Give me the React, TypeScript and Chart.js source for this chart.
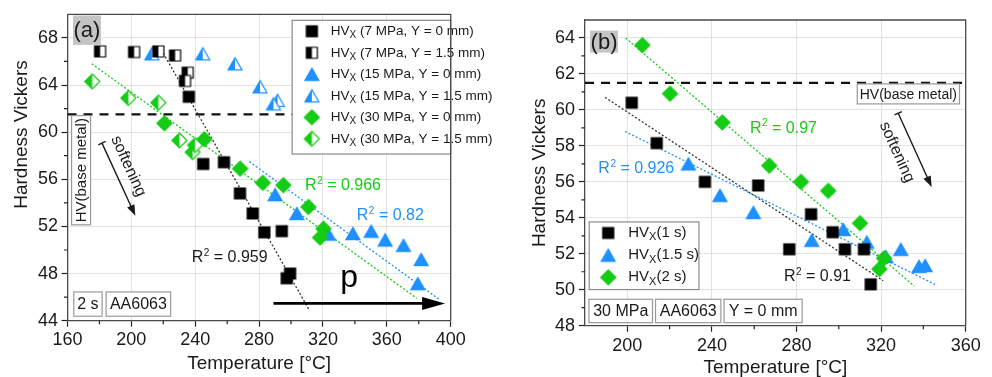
import React, { useEffect, useRef } from 'react';
import { Chart, registerables } from 'chart.js';

Chart.register(...registerables);

const FONT = "'Liberation Sans', Arial, Helvetica, sans-serif";
Chart.defaults.font.family = FONT;

const INK = '#1a1a1a';
const BLACK = '#000000';
const BLUE = '#1e90ff';
const GREEN = '#14cc14';
const GRID = '#e2e2e2';
const FRAME = '#4a4a4a';

// ---------------- Panel (a) ----------------
const A_X_TICKS = [160, 200, 240, 280, 320, 360, 400];
const A_Y_TICKS = [44, 48, 52, 56, 60, 64, 68];
const A_X_MINOR = [180, 220, 260, 300, 340, 380];
const A_Y_MINOR = [46, 50, 54, 58, 62, 66];

const A_T_7_0 = [236, 245, 258, 268, 276, 283.3, 294.2, 299.4, 297.3];
const A_HV_7_0 = [63.0, 57.3, 57.45, 54.8, 53.1, 51.5, 51.6, 48.0, 47.6];
const A_T_7_15 = [180.4, 201.7, 216.9, 227.4, 235.3, 233.6];
const A_HV_7_15 = [66.85, 66.8, 66.85, 66.5, 65.05, 64.35];
const A_T_15_0 = [290, 303.6, 323.4, 338.7, 350.2, 358.9, 370.4, 381.5, 379.4];
const A_HV_15_0 = [54.7, 53.1, 51.35, 51.4, 51.6, 50.85, 50.4, 49.2, 47.15];
const A_T_15_15 = [212.8, 244.7, 264.9, 280.6, 291.5, 289.0];
const A_HV_15_15 = [66.65, 66.65, 65.8, 63.85, 62.7, 62.4];
const A_T_30_0 = [220.7, 245.7, 268.1, 282.3, 295.2, 310.9, 320.3, 318.2];
const A_HV_30_0 = [60.75, 59.4, 56.9, 55.7, 55.5, 53.65, 51.8, 51.05];
const A_T_30_15 = [175.5, 198.1, 216.9, 230.1, 238.4, 239.9];
const A_HV_30_15 = [64.3, 62.9, 62.5, 59.3, 58.3, 58.9];

const A_FIT_7_T = [220, 311];
const A_FIT_7_HV = [66.7, 45.0];
const A_FIT_15_T = [273.9, 393.4];
const A_FIT_15_HV = [57.5, 45.75];
const A_FIT_30_T = [175.2, 378.8];
const A_FIT_30_HV = [65.8, 45.9];
const A_BASE_T = [160, 400];
const A_BASE_HV = [61.5, 61.5];

const A_LEGEND = [
  ' (7 MPa, Y = 0 mm)',
  ' (7 MPa, Y = 1.5 mm)',
  ' (15 MPa, Y = 0 mm)',
  ' (15 MPa, Y = 1.5 mm)',
  ' (30 MPa, Y = 0 mm)',
  ' (30 MPa, Y = 1.5 mm)',
];
const A_R2 = ['0.959', '0.82', '0.966'];

// ---------------- Panel (b) ----------------
const B_X_TICKS = [200, 240, 280, 320, 360];
const B_Y_TICKS = [48, 50, 52, 54, 56, 58, 60, 62, 64];
const B_X_MINOR = [220, 260, 300, 340];
const B_Y_MINOR = [49, 51, 53, 55, 57, 59, 61, 63];

const B_T_1S = [202.1, 213.9, 236.7, 261.9, 276.6, 286.9, 297.1, 302.9, 311.9, 315.1];
const B_HV_1S = [60.4, 58.15, 56.0, 55.8, 52.25, 54.2, 53.2, 52.25, 52.25, 50.3];
const B_T_15S = [228.9, 243.8, 259.6, 287.2, 302.1, 313.2, 322.2, 329.3, 337.9, 340.8];
const B_HV_15S = [57.0, 55.25, 54.3, 52.75, 53.35, 52.65, 51.85, 52.25, 51.3, 51.35];
const B_T_2S = [207.1, 220.2, 244.9, 267.1, 282.1, 295.0, 310.0, 321.4, 319.2];
const B_HV_2S = [63.6, 60.9, 59.3, 56.9, 56.0, 55.5, 53.7, 51.75, 51.15];

const B_FIT_1S_T = [189.5, 321.0];
const B_FIT_1S_HV = [60.7, 50.5];
const B_FIT_15S_T = [198.9, 345.5];
const B_FIT_15S_HV = [58.8, 50.3];
const B_FIT_2S_T = [199.2, 335.7];
const B_FIT_2S_HV = [64.0, 50.2];
const B_BASE_T = [180, 360];
const B_BASE_HV = [61.5, 61.5];

const B_LEGEND = ['(1 s)', '(1.5 s)', '(2 s)'];
const B_R2 = ['0.91', '0.926', '0.97'];

// ---------------- helpers ----------------
const pts = (xs: number[], ys: number[]) => xs.map((x, i) => ({ x, y: ys[i] }));

type Shape = 'square' | 'triangle' | 'diamond';
function makeMarker(shape: Shape, color: string, size: number, half: boolean): HTMLCanvasElement {
  const c = document.createElement('canvas');
  const pad = 2;
  const h = shape === 'triangle' ? size * 0.87 : size;
  c.width = Math.ceil(size + pad * 2);
  c.height = Math.ceil(h + pad * 2);
  const g = c.getContext('2d')!;
  const cx = c.width / 2;
  const cy = c.height / 2;
  const path = () => {
    g.beginPath();
    if (shape === 'square') g.rect(cx - size / 2, cy - size / 2, size, size);
    else if (shape === 'triangle') {
      g.moveTo(cx, cy - h / 2);
      g.lineTo(cx + size / 2, cy + h / 2);
      g.lineTo(cx - size / 2, cy + h / 2);
      g.closePath();
    } else {
      g.moveTo(cx, cy - size / 2);
      g.lineTo(cx + size / 2, cy);
      g.lineTo(cx, cy + size / 2);
      g.lineTo(cx - size / 2, cy);
      g.closePath();
    }
  };
  path();
  g.fillStyle = half ? '#ffffff' : color;
  g.fill();
  if (half) {
    g.save();
    g.beginPath();
    g.rect(0, 0, cx, c.height);
    g.clip();
    path();
    g.fillStyle = color;
    g.fill();
    g.restore();
  }
  path();
  g.lineWidth = 1.2;
  g.strokeStyle = color;
  g.stroke();
  return c;
}

function rsq(ctx: any, x: number, y: number, val: string, color: string, size: number) {
  ctx.save();
  ctx.fillStyle = color;
  ctx.textBaseline = 'middle';
  ctx.textAlign = 'left';
  ctx.font = `${size}px ${FONT}`;
  ctx.fillText('R', x, y);
  let w = ctx.measureText('R').width;
  ctx.font = `${Math.round(size * 0.62)}px ${FONT}`;
  ctx.fillText('2', x + w + 0.5, y - size * 0.3);
  w += ctx.measureText('2').width + 0.5;
  ctx.font = `${size}px ${FONT}`;
  ctx.fillText(' = ' + val, x + w, y);
  ctx.restore();
}

function hvx(ctx: any, x: number, y: number, rest: string, size: number) {
  ctx.save();
  ctx.fillStyle = INK;
  ctx.textBaseline = 'middle';
  ctx.textAlign = 'left';
  ctx.font = `${size}px ${FONT}`;
  ctx.fillText('HV', x, y);
  let w = ctx.measureText('HV').width;
  ctx.font = `${Math.round(size * 0.75)}px ${FONT}`;
  ctx.fillText('X', x + w, y + size * 0.3);
  w += ctx.measureText('X').width;
  ctx.font = `${size}px ${FONT}`;
  ctx.fillText(rest, x + w, y);
  ctx.restore();
}

function labelBox(ctx: any, cx: number, cy: number, text: string, size: number, padX: number, boxH: number, rot: number, fill: string, stroke: string | null) {
  ctx.save();
  ctx.translate(cx, cy);
  ctx.rotate(rot);
  ctx.font = `${size}px ${FONT}`;
  const w = ctx.measureText(text).width + padX * 2;
  ctx.fillStyle = fill;
  ctx.fillRect(-w / 2, -boxH / 2, w, boxH);
  if (stroke) {
    ctx.strokeStyle = stroke;
    ctx.lineWidth = 1.2;
    ctx.strokeRect(-w / 2, -boxH / 2, w, boxH);
  }
  ctx.fillStyle = INK;
  ctx.textAlign = 'center';
  ctx.textBaseline = 'middle';
  ctx.fillText(text, 0, 1);
  ctx.restore();
}

function softArrow(ctx: any, x1: number, y1: number, x2: number, y2: number) {
  const a = Math.atan2(y2 - y1, x2 - x1);
  ctx.save();
  ctx.strokeStyle = INK;
  ctx.fillStyle = INK;
  ctx.lineWidth = 1.4;
  ctx.beginPath();
  ctx.moveTo(x1, y1);
  ctx.lineTo(x2 - Math.cos(a) * 8, y2 - Math.sin(a) * 8);
  ctx.stroke();
  const px = -Math.sin(a), py = Math.cos(a);
  ctx.beginPath();
  ctx.moveTo(x1 - px * 4, y1 - py * 4);
  ctx.lineTo(x1 + px * 4, y1 + py * 4);
  ctx.stroke();
  ctx.beginPath();
  ctx.moveTo(x2, y2);
  ctx.lineTo(x2 - Math.cos(a) * 11 + px * 4, y2 - Math.sin(a) * 11 + py * 4);
  ctx.lineTo(x2 - Math.cos(a) * 11 - px * 4, y2 - Math.sin(a) * 11 - py * 4);
  ctx.closePath();
  ctx.fill();
  ctx.restore();
}

function rotText(ctx: any, cx: number, cy: number, text: string, size: number, rot: number) {
  ctx.save();
  ctx.translate(cx, cy);
  ctx.rotate(rot);
  ctx.font = `${size}px ${FONT}`;
  ctx.fillStyle = INK;
  ctx.textAlign = 'center';
  ctx.textBaseline = 'middle';
  ctx.fillText(text, 0, 0);
  ctx.restore();
}

function frameAndMinor(ctx: any, ca: any, X: (v: number) => number, Y: (v: number) => number, xm: number[], ym: number[]) {
  ctx.save();
  ctx.strokeStyle = FRAME;
  ctx.lineWidth = 1.3;
  ctx.beginPath();
  ctx.moveTo(ca.left, ca.top);
  ctx.lineTo(ca.right, ca.top);
  ctx.lineTo(ca.right, ca.bottom);
  ctx.stroke();
  ctx.lineWidth = 1.2;
  ctx.strokeStyle = '#222';
  ctx.beginPath();
  xm.forEach((v) => {
    ctx.moveTo(X(v), ca.bottom);
    ctx.lineTo(X(v), ca.bottom + 3.5);
  });
  ym.forEach((v) => {
    ctx.moveTo(ca.left, Y(v));
    ctx.lineTo(ca.left - 3.5, Y(v));
  });
  ctx.stroke();
  ctx.restore();
}

function scaleCfg(min: number, max: number, ticks: number[], size: number, pad: number, title: any, isX: boolean) {
  return {
    type: 'linear',
    min,
    max,
    afterBuildTicks: (s: any) => {
      s.ticks = ticks.map((v) => ({ value: v }));
    },
    afterFit: (s: any) => {
      if (isX) s.height = size;
      else s.width = size;
    },
    grid: { color: GRID, lineWidth: 1, tickLength: 6, tickColor: '#222', tickWidth: 1.2, drawTicks: true },
    border: { display: true, color: FRAME, width: 1.3 },
    ticks: { font: { size: 18, family: FONT }, color: INK, padding: pad, autoSkip: false, maxRotation: 0, minRotation: 0 },
    title,
  };
}

function scatterSet(label: string, data: any[], marker: HTMLCanvasElement, order: number) {
  return { label, data, pointStyle: marker, pointRadius: 6, pointHoverRadius: 6, showLine: false, order };
}
function lineSet(label: string, data: any[], color: string, dash: number[], width: number, order: number) {
  return { label, data, showLine: true, borderColor: color, borderWidth: width, borderDash: dash, pointRadius: 0, pointHoverRadius: 0, fill: false, order };
}

// ---------------- chart builders ----------------
function buildA() {
  const mSqF = makeMarker('square', BLACK, 11, false);
  const mSqH = makeMarker('square', BLACK, 11, true);
  const mTrF = makeMarker('triangle', BLUE, 14, false);
  const mTrH = makeMarker('triangle', BLUE, 14, true);
  const mDiF = makeMarker('diamond', GREEN, 15, false);
  const mDiH = makeMarker('diamond', GREEN, 15, true);
  const legendMarkers = [mSqF, mSqH, mTrF, mTrH, mDiF, mDiH];

  const plugin = {
    id: 'panelA',
    afterDatasetsDraw(chart: any) {
      const { ctx, chartArea: ca, scales } = chart;
      const X = (v: number) => scales.x.getPixelForValue(v);
      const Y = (v: number) => scales.y.getPixelForValue(v);
      const lx = X(300.7), ly = Y(69.49);
      ctx.save();
      ctx.fillStyle = '#ffffff';
      ctx.fillRect(lx, ly, ca.right - lx, 133.7);
      ctx.strokeStyle = '#8a8a8a';
      ctx.lineWidth = 1.2;
      ctx.strokeRect(lx, ly, ca.right - lx, 133.7);
      ctx.restore();
      A_LEGEND.forEach((t, i) => {
        const ry = ly + 11 + i * 21.5;
        const m = legendMarkers[i];
        ctx.drawImage(m, lx + 19.7 - m.width / 2, ry - m.height / 2);
        hvx(ctx, lx + 38.7, ry, t, 13.5);
      });
      frameAndMinor(ctx, ca, X, Y, A_X_MINOR, A_Y_MINOR);
      rotText(ctx, 22, Y(59.8), 'Hardness Vickers', 19, -Math.PI / 2);
      labelBox(ctx, X(172.2), Y(68.65), '(a)', 22, 0.5, 29.4, 0, '#c4c4c4', null);
      labelBox(ctx, X(168.5), Y(56.77), 'HV(base metal)', 15, 2.5, 19, -Math.PI / 2, '#ffffff', '#999999');
      softArrow(ctx, X(181.6), Y(59.07), X(202.5), Y(52.9));
      rotText(ctx, X(198.1), Y(57.1), 'softening', 16, Math.atan2(73.3, 33.3));
      rsq(ctx, X(237.8), Y(49.34), A_R2[0], INK, 16);
      rsq(ctx, X(341.2), Y(52.9), A_R2[1], BLUE, 16);
      rsq(ctx, X(308.8), Y(55.43), A_R2[2], GREEN, 16);
      ctx.save();
      ctx.strokeStyle = BLACK;
      ctx.fillStyle = BLACK;
      ctx.lineWidth = 2.6;
      const ay = Y(45.47), ax1 = X(289), ax2 = X(396.5);
      ctx.beginPath();
      ctx.moveTo(ax1, ay);
      ctx.lineTo(ax2 - 20, ay);
      ctx.stroke();
      ctx.beginPath();
      ctx.moveTo(ax2, ay);
      ctx.lineTo(ax2 - 23, ay - 6.5);
      ctx.lineTo(ax2 - 23, ay + 6.5);
      ctx.closePath();
      ctx.fill();
      ctx.font = `32px ${FONT}`;
      ctx.textAlign = 'center';
      ctx.textBaseline = 'middle';
      ctx.fillText('p', X(336.4), Y(47.6));
      ctx.restore();
      labelBox(ctx, X(172.8), Y(45.41), '2 s', 16, 3.5, 24.3, 0, '#ffffff', '#999999');
      labelBox(ctx, X(204.4), Y(45.41), 'AA6063', 16, 3.8, 24.3, 0, '#ffffff', '#999999');
    },
  };

  return {
    type: 'scatter',
    data: {
      datasets: [
        lineSet('HV(base metal)', pts(A_BASE_T, A_BASE_HV), '#111111', [9, 7], 2.2, 20),
        lineSet('fit 7 MPa', pts(A_FIT_7_T, A_FIT_7_HV), '#333333', [2, 2], 1.3, 12),
        lineSet('fit 15 MPa', pts(A_FIT_15_T, A_FIT_15_HV), BLUE, [2, 2], 1.3, 11),
        lineSet('fit 30 MPa', pts(A_FIT_30_T, A_FIT_30_HV), GREEN, [2, 2], 1.3, 10),
        scatterSet('HVX (7 MPa, Y = 0 mm)', pts(A_T_7_0, A_HV_7_0), mSqF, 3),
        scatterSet('HVX (7 MPa, Y = 1.5 mm)', pts(A_T_7_15, A_HV_7_15), mSqH, 4),
        scatterSet('HVX (15 MPa, Y = 0 mm)', pts(A_T_15_0, A_HV_15_0), mTrF, 2),
        scatterSet('HVX (15 MPa, Y = 1.5 mm)', pts(A_T_15_15, A_HV_15_15), mTrH, 5),
        scatterSet('HVX (30 MPa, Y = 0 mm)', pts(A_T_30_0, A_HV_30_0), mDiF, 1),
        scatterSet('HVX (30 MPa, Y = 1.5 mm)', pts(A_T_30_15, A_HV_30_15), mDiH, 6),
      ],
    },
    options: {
      responsive: false,
      animation: false,
      devicePixelRatio: 1,
      layout: { padding: { left: 0, top: 12, right: 49.3, bottom: 0 } },
      plugins: { legend: { display: false }, tooltip: { enabled: false } },
      scales: {
        x: scaleCfg(160, 400, A_X_TICKS, 56.3, 2.5, {
          display: true, text: 'Temperature [°C]', color: INK,
          font: { size: 19, family: FONT, lineHeight: 1 }, padding: { top: 0, bottom: 4 },
        }, true),
        y: scaleCfg(44, 70, A_Y_TICKS, 67.5, 3.5, { display: false }, false),
      },
    },
    plugins: [plugin],
  };
}

function buildB() {
  const mSq = makeMarker('square', BLACK, 11, false);
  const mTr = makeMarker('triangle', BLUE, 14, false);
  const mDi = makeMarker('diamond', GREEN, 15, false);
  const legendMarkers = [mSq, mTr, mDi];

  const plugin = {
    id: 'panelB',
    afterDatasetsDraw(chart: any) {
      const { ctx, chartArea: ca, scales } = chart;
      const X = (v: number) => scales.x.getPixelForValue(v);
      const Y = (v: number) => scales.y.getPixelForValue(v);
      frameAndMinor(ctx, ca, X, Y, B_X_MINOR, B_Y_MINOR);
      const lx = X(182.0), ly = Y(53.77);
      ctx.save();
      ctx.fillStyle = '#ffffff';
      ctx.fillRect(lx, ly, 109.7, 67.6);
      ctx.strokeStyle = '#8a8a8a';
      ctx.lineWidth = 1.2;
      ctx.strokeRect(lx, ly, 109.7, 67.6);
      ctx.restore();
      B_LEGEND.forEach((t, i) => {
        const ry = ly + 11 + i * 22.2;
        const m = legendMarkers[i];
        ctx.drawImage(m, lx + 19 - m.width / 2, ry - m.height / 2);
        hvx(ctx, lx + 39, ry, t, 15);
      });
      labelBox(ctx, X(189.0), Y(63.8), '(b)', 22, 0.5, 22, 0, '#c4c4c4', null);
      labelBox(ctx, X(332.9), Y(60.89), 'HV(base metal)', 14, 2.5, 20, 0, '#ffffff', '#999999');
      softArrow(ctx, X(328.1), Y(59.81), X(343.9), Y(55.71));
      rotText(ctx, X(327.4), Y(57.65), 'softening', 16, Math.atan2(74, 33.4));
      rsq(ctx, X(274.1), Y(50.72), B_R2[0], INK, 16);
      rsq(ctx, X(186.3), Y(56.73), B_R2[1], BLUE, 16);
      rsq(ctx, X(258.0), Y(58.98), B_R2[2], GREEN, 16);
      labelBox(ctx, X(196.9), Y(48.82), '30 MPa', 16, 4.2, 23.4, 0, '#ffffff', '#999999');
      labelBox(ctx, X(228.8), Y(48.82), 'AA6063', 16, 4.2, 23.4, 0, '#ffffff', '#999999');
      labelBox(ctx, X(264.2), Y(48.82), 'Y = 0 mm', 16, 4.6, 23.4, 0, '#ffffff', '#999999');
    },
  };

  return {
    type: 'scatter',
    data: {
      datasets: [
        lineSet('HV(base metal)', pts(B_BASE_T, B_BASE_HV), '#111111', [9, 7], 2.2, 20),
        lineSet('fit 1 s', pts(B_FIT_1S_T, B_FIT_1S_HV), '#333333', [2, 2], 1.3, 12),
        lineSet('fit 1.5 s', pts(B_FIT_15S_T, B_FIT_15S_HV), BLUE, [2, 2], 1.3, 11),
        lineSet('fit 2 s', pts(B_FIT_2S_T, B_FIT_2S_HV), GREEN, [2, 2], 1.3, 10),
        scatterSet('HVX(1 s)', pts(B_T_1S, B_HV_1S), mSq, 2),
        scatterSet('HVX(1.5 s)', pts(B_T_15S, B_HV_15S), mTr, 3),
        scatterSet('HVX(2 s)', pts(B_T_2S, B_HV_2S), mDi, 1),
      ],
    },
    options: {
      responsive: false,
      animation: false,
      devicePixelRatio: 1,
      layout: { padding: { left: 0, top: 20, right: 26.3, bottom: 0 } },
      plugins: { legend: { display: false }, tooltip: { enabled: false } },
      scales: {
        x: scaleCfg(180, 360, B_X_TICKS, 51.3, 3.2, {
          display: true, text: 'Temperature [°C]', color: INK,
          font: { size: 19, family: FONT, lineHeight: 1 }, padding: { top: 0, bottom: 0 },
        }, true),
        y: scaleCfg(48, 65, B_Y_TICKS, 85, 4, {
          display: true, text: 'Hardness Vickers', color: INK,
          font: { size: 19, family: FONT, lineHeight: 1.2 }, padding: { top: 28.6, bottom: 0 },
        }, false),
      },
    },
    plugins: [plugin],
  };
}

function Panel({ left, width, build }: { left: number; width: number; build: () => any }) {
  const ref = useRef<HTMLCanvasElement>(null);
  useEffect(() => {
    const chart = new Chart(ref.current as HTMLCanvasElement, build());
    return () => chart.destroy();
  }, []);
  return (
    <div style={{ position: 'absolute', left, top: 0, width, height: 377 }}>
      <canvas ref={ref} width={width} height={377} style={{ width, height: 377, display: 'block' }} />
    </div>
  );
}

export default function App() {
  return (
    <div style={{ position: 'absolute', left: 0, top: 0, width: 992, height: 377, background: '#ffffff' }}>
      <Panel left={0} width={500} build={buildA} />
      <Panel left={500} width={492} build={buildB} />
    </div>
  );
}
